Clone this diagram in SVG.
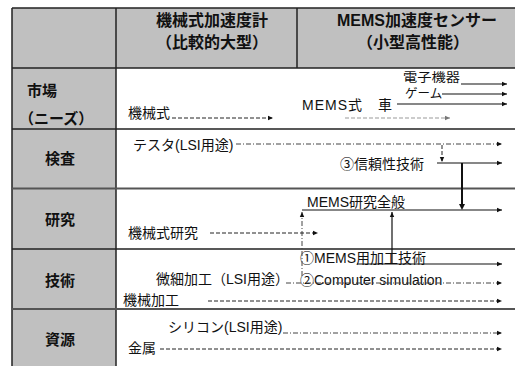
<svg xmlns="http://www.w3.org/2000/svg" width="515" height="366" viewBox="0 0 515 366">
<defs>
<style>
.t{font-family:"Liberation Sans","Noto Sans CJK JP",sans-serif;font-size:14px;fill:#111}
.s{font-family:"Liberation Sans","Noto Sans CJK JP",sans-serif;font-size:12.5px;fill:#111}
.h{font-family:"Liberation Sans","Noto Sans CJK JP",sans-serif;font-size:16px;font-weight:bold;fill:#111;text-anchor:middle}
.rl{font-family:"Liberation Sans","Noto Sans CJK JP",sans-serif;font-size:15px;font-weight:bold;fill:#111}
.grid{stroke:#222;stroke-width:1.5;fill:none}
.solid{stroke:#111;stroke-width:1.2;fill:none;marker-end:url(#ah)}
.bold{stroke:#111;stroke-width:2;fill:none}
.dash{stroke:#222;stroke-width:1;stroke-dasharray:4 2;fill:none;marker-end:url(#ah)}
.dd{stroke:#444;stroke-width:1;stroke-dasharray:5 2 1 2;fill:none;marker-end:url(#ah)}
.gdash{stroke:#999;stroke-width:1.2;stroke-dasharray:4 2;fill:none;marker-end:url(#ahg)}
</style>
<marker id="ah" markerUnits="userSpaceOnUse" markerWidth="6" markerHeight="6" refX="5" refY="3" orient="auto"><path d="M0,0.8 L5,3 L0,5.2 z" fill="#111"/></marker>
<marker id="ahg" markerUnits="userSpaceOnUse" markerWidth="6" markerHeight="6" refX="5" refY="3" orient="auto"><path d="M0,0.8 L5,3 L0,5.2 z" fill="#777"/></marker>
</defs>
<rect x="0" y="0" width="515" height="366" fill="#fff"/>
<g id="table">
<rect x="12" y="8" width="503" height="60" fill="#c0c0c0"/>
<rect x="12" y="68" width="104" height="298" fill="#c0c0c0"/>
<path class="grid" d="M12,8 H515 M12,8 V366 M116,8 V366 M297,8 V68 M12,68 H515 M12,129 H515 M12,249 H515"/>
<path d="M12,188.5 H515 M12,309 H515" stroke="#555" stroke-width="2"/>
</g>
<g id="header">
<text class="h" x="212" y="26">機械式加速度計</text>
<text class="h" x="212" y="48">（比較的大型）</text>
<text class="h" x="417" y="26">MEMS加速度センサー</text>
<text class="h" x="413" y="48">（小型高性能）</text>
</g>
<g id="rows">
<text class="rl" x="27" y="96">市場</text>
<text class="rl" x="19" y="124">（ニーズ）</text>
<text class="rl" x="60" y="164" text-anchor="middle">検査</text>
<text class="rl" x="60" y="225" text-anchor="middle">研究</text>
<text class="rl" x="60" y="286" text-anchor="middle">技術</text>
<text class="rl" x="60" y="345" text-anchor="middle">資源</text>
</g>
<g id="labels">
<text class="t" x="128" y="118">機械式</text>
<text class="t" x="302" y="110" textLength="90" lengthAdjust="spacing">MEMS式　車</text>
<text class="s" x="403" y="82" textLength="57" lengthAdjust="spacingAndGlyphs">電子機器</text>
<text class="s" x="405" y="98">ゲーム</text>
<text class="t" x="133" y="150">テスタ(LSI用途)</text>
<text class="t" x="340" y="169">③信頼性技術</text>
<text class="t" x="307" y="207">MEMS研究全般</text>
<text class="t" x="128" y="238">機械式研究</text>
<text class="t" x="300" y="263">①MEMS用加工技術</text>
<text class="t" x="156" y="284">微細加工（LSI用途）</text>
<text class="t" x="300" y="285">②Computer simulation</text>
<text class="t" x="123" y="305">機械加工</text>
<text class="t" x="168" y="332">シリコン(LSI用途)</text>
<text class="t" x="128" y="353">金属</text>
</g>
<g id="connectors">
<path class="solid" d="M461,84 H507"/>
<path class="solid" d="M442,94 H507"/>
<path class="solid" d="M397,104 H507"/>
<path class="dash" d="M172,118 H273"/>
<path class="gdash" d="M345,118 H450"/>
<path class="dd" d="M236,144 H502"/>
<path class="dash" stroke-dasharray="2 2" d="M442,145 V162"/>
<path class="solid" d="M437,163 H502"/>
<path class="bold" d="M462,163 V204"/>
<path d="M462,210 l-3,-6 h6 z" fill="#111"/>
<path class="solid" stroke-width="2" d="M302,210 H502"/>
<path class="dd" d="M302,276 V212"/>
<path class="solid" stroke-width="1.6" d="M392,264 V212"/>
<path class="dash" d="M210,233 H318"/>
<path class="solid" stroke-width="1.6" d="M357,264 H502"/>
<path class="dd" d="M286,283 H502"/>
<path class="dash" d="M208,301 H502"/>
<path class="dd" d="M283,333 H502"/>
<path class="dash" d="M160,349 H502"/>
</g>
</svg>
